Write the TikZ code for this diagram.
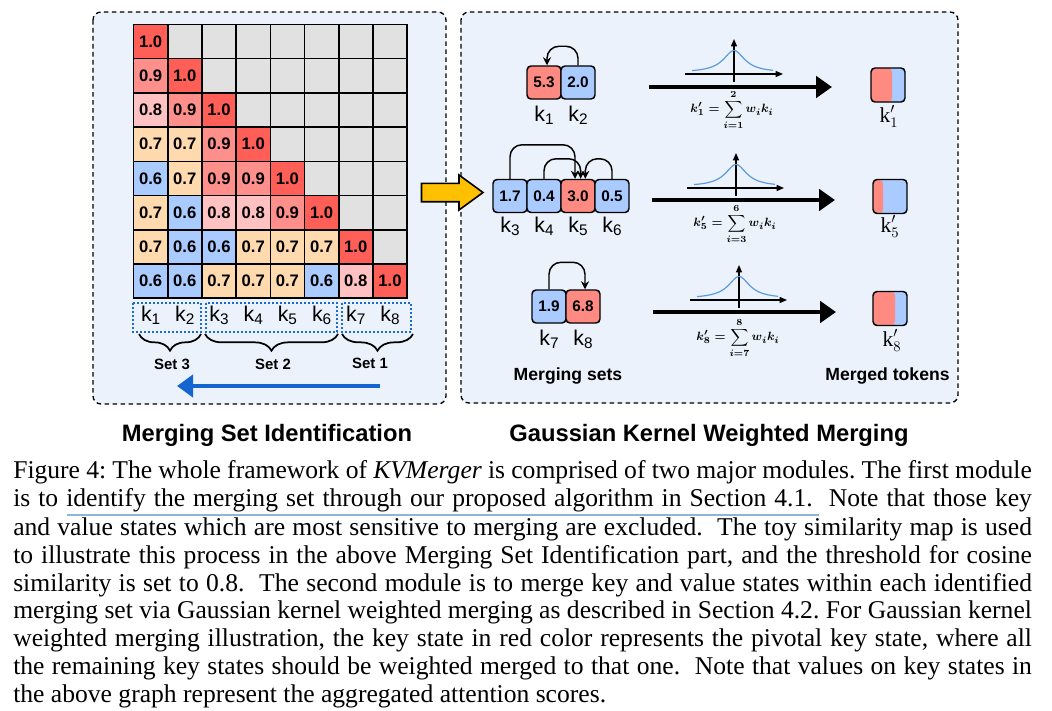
\documentclass[tikz,border=0pt]{standalone}
\usepackage{fontspec}
\usepackage{amsmath}
\setmainfont{Liberation Serif}
\newfontfamily\ar{Liberation Sans}
\usetikzlibrary{arrows.meta,decorations.pathreplacing,calc}
\definecolor{c10}{HTML}{FF5F57}
\definecolor{c09}{HTML}{FF8F8A}
\definecolor{c08}{HTML}{FFC1C1}
\definecolor{c07}{HTML}{FFDAAE}
\definecolor{c06}{HTML}{A9CBFF}
\definecolor{gcell}{HTML}{E1E1E1}
\definecolor{panelbg}{HTML}{EBF2FC}
\definecolor{redK}{HTML}{FF8A82}
\definecolor{blueK}{HTML}{A9CBFF}
\definecolor{setblue}{HTML}{1A6ACF}
\definecolor{arrblue}{HTML}{1565D0}
\definecolor{gold}{HTML}{FFC000}
\definecolor{curveblue}{HTML}{5B9BDB}
\definecolor{ulblue}{HTML}{8FB5D5}
\newcommand{\kk}[1]{k\raisebox{-2.8pt}{\fontsize{11.5}{12}\selectfont #1}}
\newcommand{\kp}[1]{{\fontsize{16}{16}\selectfont$\mathrm{k}'_{#1}$}}
\newcommand{\capline}[1]{\makebox[764pt][s]{#1}}
\newcommand{\gform}[3]{{\boldmath$\displaystyle k'_{#1}=\sum_{i=#2}^{#3} w_i k_i$}}
\begin{document}
\begin{tikzpicture}[x=0.75pt,y=-0.75pt,
 panel/.style={draw=black, line width=1pt, dash pattern=on 3.5pt off 2.5pt, fill=panelbg, rounded corners=6pt},
 cell/.style={draw=black, line width=1.2pt, minimum size=25.65pt, inner sep=0pt, font=\ar\bfseries\fontsize{12.5}{12.5}\selectfont},
 klab/.style={font=\ar\fontsize{16}{16}\selectfont, inner sep=0pt, anchor=base},
 setbox/.style={draw=setblue, line width=1.4pt, dash pattern=on 1.4pt off 1.6pt},
 brc/.style={decorate, decoration={brace, mirror, amplitude=12.5pt}, line width=1.3pt},
 setlab/.style={font=\ar\bfseries\fontsize{11.2}{12}\selectfont, anchor=base, inner sep=0pt},
 title/.style={font=\ar\bfseries\fontsize{17.8}{20}\selectfont, anchor=base, inner sep=0pt},
 keybox/.style={draw=black, line width=1.1pt, rounded corners=3pt, minimum width=25.5pt, minimum height=24.75pt, inner sep=0pt, font=\ar\bfseries\fontsize{11.5}{12}\selectfont},
 carrow/.style={-{Stealth[length=6pt,width=6pt]}, line width=1.1pt, rounded corners=9pt},
 bigarrow/.style={-{Triangle[length=12pt,width=16pt]}, line width=3.2pt},
 axis/.style={-{Triangle[length=5.5pt,width=4.5pt]}, line width=0.9pt},
 gcurve/.style={curveblue, line width=0.9pt},
 formula/.style={font=\fontsize{9.5}{11}\selectfont, inner sep=0pt},
 tok/.style={draw=black, line width=1.1pt, rounded corners=3pt, minimum width=25.5pt, minimum height=25.5pt, inner sep=0pt, fill=blueK,
   path picture={\fill[redK] (path picture bounding box.south west) rectangle ([xshift=#1]path picture bounding box.north west);}},
 caption/.style={font=\frenchspacing\fontsize{19.2}{21}\selectfont, anchor=base west, inner sep=0pt},
 sublab/.style={font=\ar\bfseries\fontsize{13.2}{14}\selectfont, anchor=base, inner sep=0pt}
]
\useasboundingbox (0,0) rectangle (1052,710);
\fill[white] (0,0) rectangle (1052,710);

% panels
\draw[panel] (93,12) rectangle (446,404);
\draw[panel] (461,12) rectangle (958,403);

% similarity matrix
\foreach \r in {1,...,8}{\foreach \c in {1,...,8}{%
  \ifnum\c>\r\relax
  \node[cell, fill=gcell] (m\r\c) at ({133.5+34.2*(\c-0.5)},{24.5+34.2*(\r-0.5)}) {};
  \fi}}
\foreach \r/\c/\v/\col in {1/1/1.0/c10,
 2/1/0.9/c09, 2/2/1.0/c10,
 3/1/0.8/c08, 3/2/0.9/c09, 3/3/1.0/c10,
 4/1/0.7/c07, 4/2/0.7/c07, 4/3/0.9/c09, 4/4/1.0/c10,
 5/1/0.6/c06, 5/2/0.7/c07, 5/3/0.9/c09, 5/4/0.9/c09, 5/5/1.0/c10,
 6/1/0.7/c07, 6/2/0.6/c06, 6/3/0.8/c08, 6/4/0.8/c08, 6/5/0.9/c09, 6/6/1.0/c10,
 7/1/0.7/c07, 7/2/0.6/c06, 7/3/0.6/c06, 7/4/0.7/c07, 7/5/0.7/c07, 7/6/0.7/c07, 7/7/1.0/c10,
 8/1/0.6/c06, 8/2/0.6/c06, 8/3/0.7/c07, 8/4/0.7/c07, 8/5/0.7/c07, 8/6/0.6/c06, 8/7/0.8/c08, 8/8/1.0/c10}
 {\node[cell, fill=\col] (m\r\c) at ({133.5+34.2*(\c-0.5)},{24.5+34.2*(\r-0.5)}) {\v};}

% key labels under matrix
\foreach \c in {1,...,8}{\node[klab] (kl\c) at ({133.5+34.2*(\c-0.5)},321) {\kk{\c}};}
\draw[setbox] (133,303) rectangle (201,332);
\draw[setbox] (206,303) rectangle (337,332);
\draw[setbox] (342,303) rectangle (411,332);

% braces
\draw[brc] (139,334) -- (201,334);
\draw[brc] (205,334) -- (338,334);
\draw[brc] (342,334) -- (413,334);
\node[setlab] (set3) at (172,369) {Set 3};
\node[setlab] (set2) at (273,369) {Set 2};
\node[setlab] (set1) at (370,368) {Set 1};

% blue arrow
\coordinate (bs) at (380,386);
\coordinate (be) at (177,386);
\draw[-{Triangle[length=12pt,width=16.5pt]}, line width=3.5pt, arrblue] (bs) -- (be);

% titles
\node[title] (t1) at (267,441) {Merging Set Identification};
\node[title] (t2) at (709,441) {Gaussian Kernel Weighted Merging};

% yellow arrow
\draw[line width=1.2pt, fill=gold, line join=miter] (421.5,183.3) -- (459,183.3) -- (459,175) -- (483,192.5) -- (459,210) -- (459,201.7) -- (421.5,201.7) -- cycle;

% row 1
\node[keybox, fill=redK] (b1) at (544,82.5) {5.3};
\node[keybox, fill=blueK] (b2) at (578,82.5) {2.0};
\node[klab] (lk1) at (544,121) {\kk{1}};
\node[klab] (lk2) at (578,121) {\kk{2}};
\draw[carrow] (b2.north) -- ++(0,-19) -| ([xshift=2.25pt]b1.north);

% row 2
\node[keybox, fill=blueK] (b3) at (510,196) {1.7};
\node[keybox, fill=blueK] (b4) at (544,196) {0.4};
\node[keybox, fill=redK] (b5) at (578,196) {3.0};
\node[keybox, fill=blueK] (b6) at (612,196) {0.5};
\node[klab] (lk3) at (510,232) {\kk{3}};
\node[klab] (lk4) at (544,232) {\kk{4}};
\node[klab] (lk5) at (578,232) {\kk{5}};
\node[klab] (lk6) at (612,232) {\kk{6}};
\draw[carrow] (b3.north) -- ++(0,-34) -| ([xshift=-2.25pt]b5.north);
\draw[carrow] (b4.north) -- ++(0,-20) -| ([xshift=2pt]b5.north);
\draw[carrow] (b6.north) -- ++(0,-20) -| ([xshift=5.5pt]b5.north);

% row 3
\node[keybox, fill=blueK] (b7) at (549,306.5) {1.9};
\node[keybox, fill=redK] (b8) at (583,306.5) {6.8};
\node[klab] (lk7) at (549,345) {\kk{7}};
\node[klab] (lk8) at (583,345) {\kk{8}};
\draw[carrow] (b7.north) -- ++(0,-27) -| ([xshift=1.5pt]b8.north);

% gaussian plots
\foreach \cx/\ay/\hx/\hy in {734/74/685/783, 736/188/687/784, 739/300/690/787}{
  \draw[axis] (\hx,\ay) -- (\hy,\ay);
  \draw[axis] (\cx,\ay+8) -- (\cx,\ay-35);
  \draw[gcurve] plot[domain=-42:39, samples=70, smooth] ({\cx+\x},{\ay-1.5-22/(1+(\x/13)^2)});
}

% big arrows
\coordinate (a1s) at (649,87);  \coordinate (a1e) at (832,87);
\coordinate (a2s) at (652,200); \coordinate (a2e) at (835,200);
\coordinate (a3s) at (653,312); \coordinate (a3e) at (836,312);
\draw[bigarrow] (a1s) -- (a1e);
\draw[bigarrow] (a2s) -- (a2e);
\draw[bigarrow] (a3s) -- (a3e);

% formulas
\node[formula] (f1) at (732,110) {\gform{1}{1}{2}};
\node[formula] (f2) at (735,224) {\gform{5}{3}{6}};
\node[formula] (f3) at (738,338) {\gform{8}{7}{8}};

% merged tokens
\node[tok=15.75pt] (mt1) at (888,85) {};
\node[tok=7.5pt] (mt2) at (890,196.5) {};
\node[tok=16.5pt] (mt3) at (890,308.5) {};
\node[klab] (mk1) at (889,122) {\kp{1}};
\node[klab] (mk2) at (890,232) {\kp{5}};
\node[klab] (mk3) at (892,346) {\kp{8}};

\node[sublab] (ms) at (568,380) {Merging sets};
\node[sublab] (mtk) at (887.5,380) {Merged tokens};

% caption
\node[caption] (cap1) at (13,478) {\capline{Figure 4: The whole framework of \textit{KVMerger} is comprised of two major modules. The first module}};
\node[caption] (cap2) at (13,506.5) {\capline{is to identify the merging set through our proposed algorithm in Section 4.1.\ \ Note that those key}};
\node[caption] (cap3) at (13,535) {\capline{and value states which are most sensitive to merging are excluded.\ \ The toy similarity map is used}};
\node[caption] (cap4) at (13,563) {\capline{to illustrate this process in the above Merging Set Identification part, and the threshold for cosine}};
\node[caption] (cap5) at (13,591) {\capline{similarity is set to 0.8.\ \ The second module is to merge key and value states within each identified}};
\node[caption] (cap6) at (13,618) {\capline{merging set via Gaussian kernel weighted merging as described in Section 4.2. For Gaussian kernel}};
\node[caption] (cap7) at (13,646) {\capline{weighted merging illustration, the key state in red color represents the pivotal key state, where all}};
\node[caption] (cap8) at (13,674) {\capline{the remaining key states should be weighted merged to that one.\ \ Note that values on key states in}};
\node[caption] (cap9) at (13,702) {the above graph represent the aggregated attention scores.};
\coordinate (ul1) at (67,515);
\coordinate (ul2) at (819,515);
\draw[ulblue, line width=1.1pt] (ul1) -- (ul2);
\end{tikzpicture}
\end{document}
